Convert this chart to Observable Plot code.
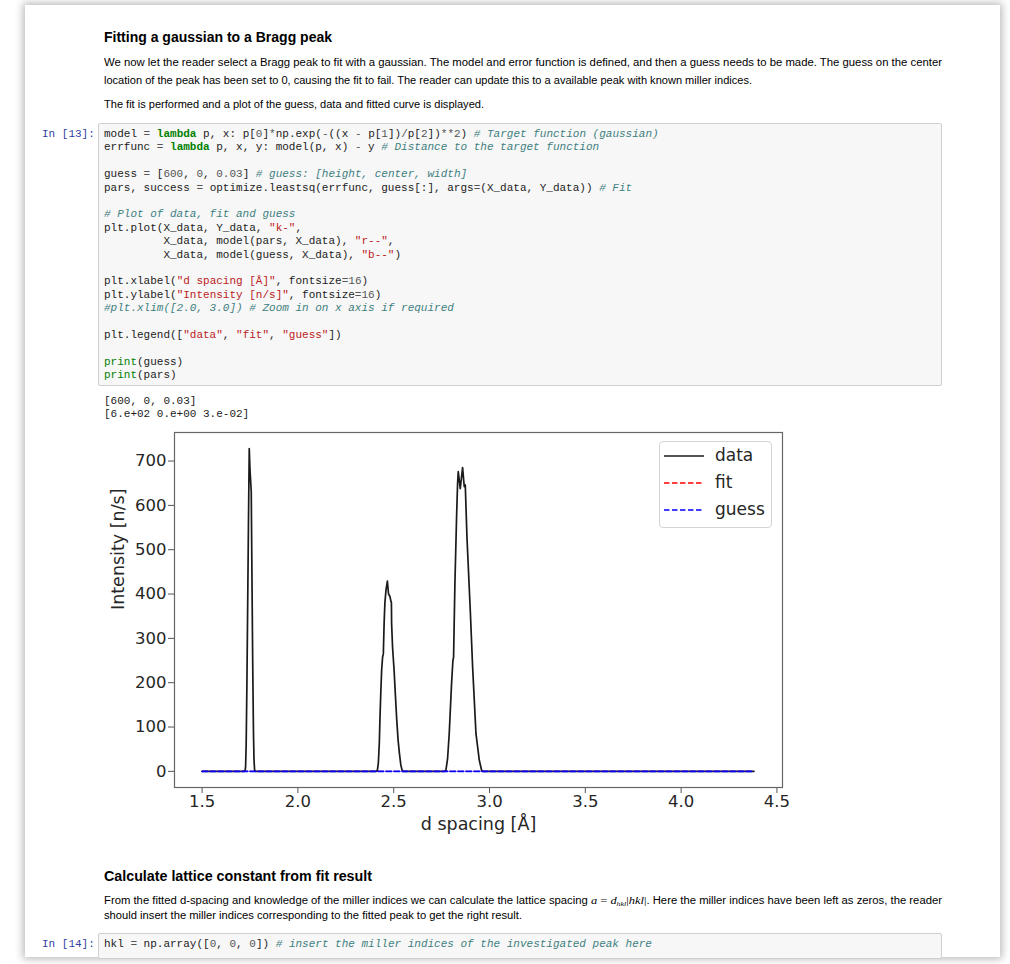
<!DOCTYPE html>
<html><head><meta charset="utf-8">
<script src="https://cdn.jsdelivr.net/npm/d3@7"></script>
<script src="https://cdn.jsdelivr.net/npm/@observablehq/plot@0.6"></script>
<style>
html,body{margin:0;padding:0;background:#fff;}
body{width:1010px;height:964px;position:relative;overflow:hidden;font-family:"Liberation Sans",Arial,sans-serif;}
#nb{position:absolute;left:25px;top:5px;width:975px;height:952px;background:#fff;box-shadow:0 0 8px 2px rgba(0,0,0,0.28);}
.t{position:absolute;white-space:pre;transform-origin:0 50%;color:#000;}
.h{font-weight:bold;font-size:14px;height:20px;line-height:20px;}
.p{font-size:10px;height:16px;line-height:16px;}
.m{font-family:"Liberation Serif","DejaVu Serif",serif;font-style:italic;font-size:11px;}
.mr{font-family:"Liberation Serif","DejaVu Serif",serif;font-size:11px;}
sub.m{font-size:7px;vertical-align:-2px;line-height:0;}
.code{position:absolute;background:#f7f7f7;border:1px solid #cfcfcf;border-radius:2px;box-sizing:border-box;}
.cl{position:absolute;white-space:pre;font-family:"Liberation Mono",monospace;font-size:11px;line-height:13px;height:13px;color:#1c1c1c;}
.prompt{position:absolute;white-space:pre;font-family:"Liberation Mono",monospace;font-size:11px;line-height:13px;height:13px;color:#303F9F;}
.kw{color:#008000;font-weight:bold;}
.bi{color:#008000;}
.cm{color:#408080;font-style:italic;}
.st{color:#BA2121;}
.nu{color:#555;}
.op{color:#555;}
#leg{position:absolute;left:659px;top:441px;width:113px;height:87px;border:1px solid #d4d4d4;border-radius:4px;background:rgba(255,255,255,0.85);box-sizing:border-box;}
.lt{position:absolute;font-family:"DejaVu Sans",sans-serif;font-size:17px;line-height:20px;height:20px;color:#262626;white-space:pre;}
</style>
</head><body>
<div id="nb"></div>
<script>
// ---------- chart data ----------
const dataX = [1.5, 1.72, 1.724, 1.727, 1.730, 1.734, 1.738, 1.742, 1.7461, 1.750, 1.7565, 1.760, 1.764, 1.768, 1.771, 1.774, 1.779,
  2.41, 2.415, 2.420, 2.425, 2.428, 2.432, 2.437, 2.442, 2.446, 2.447, 2.450, 2.454, 2.460, 2.467, 2.473, 2.480, 2.486, 2.488, 2.489, 2.494, 2.502, 2.509, 2.516, 2.523, 2.530, 2.537, 2.543, 2.548,
  2.765, 2.7723, 2.781, 2.7897, 2.8019, 2.8089, 2.8124, 2.8194, 2.8281, 2.8333, 2.8368, 2.8473, 2.8595, 2.8682, 2.8735, 2.8822, 2.8996, 2.9119, 2.9293, 2.9467, 2.9590, 2.965, 4.38];
const dataY = [0, 0, 1, 10, 60, 200, 380, 560, 728, 680, 632, 450, 250, 90, 25, 3, 0,
  0, 3, 20, 65, 115, 170, 228, 258, 265, 285, 335, 380, 410, 429, 400, 395, 383, 381, 334, 280, 228, 170, 115, 70, 40, 15, 4, 0,
  0, 2, 28, 85, 198, 250, 257, 424, 574, 649, 676, 638, 685, 642, 646, 529, 363, 235, 85, 25, 2, 0, 0];
const fitX = [1.5, 4.38];
const fitY = [0, 0];
const guessX = [1.5, 4.38];
const guessY = [0, 0];
const xTicks = [1.5, 2.0, 2.5, 3.0, 3.5, 4.0, 4.5];
const yTicks = [0, 100, 200, 300, 400, 500, 600, 700];
const xLabel = "d spacing [Å]";
const yLabel = "Intensity [n/s]";
const legendLabels = ["data", "fit", "guess"];
const legendColors = ["#1a1a1a", "#ff0000", "#0000ff"];

// ---------- notebook text ----------
const heading1 = "Fitting a gaussian to a Bragg peak";
const para1 = ["We now let the reader select a Bragg peak to fit with a gaussian. The model and error function is defined, and then a guess needs to be made. The guess on the center",
  "location of the peak has been set to 0, causing the fit to fail. The reader can update this to a available peak with known miller indices."];
const para2 = "The fit is performed and a plot of the guess, data and fitted curve is displayed.";
const code13 = [
  'model = lambda p, x: p[0]*np.exp(-((x - p[1])/p[2])**2) # Target function (gaussian)',
  'errfunc = lambda p, x, y: model(p, x) - y # Distance to the target function',
  '',
  'guess = [600, 0, 0.03] # guess: [height, center, width]',
  'pars, success = optimize.leastsq(errfunc, guess[:], args=(X_data, Y_data)) # Fit',
  '',
  '# Plot of data, fit and guess',
  'plt.plot(X_data, Y_data, "k-",',
  '         X_data, model(pars, X_data), "r--",',
  '         X_data, model(guess, X_data), "b--")',
  '',
  'plt.xlabel("d spacing [Å]", fontsize=16)',
  'plt.ylabel("Intensity [n/s]", fontsize=16)',
  '#plt.xlim([2.0, 3.0]) # Zoom in on x axis if required',
  '',
  'plt.legend(["data", "fit", "guess"])',
  '',
  'print(guess)',
  'print(pars)'];
const output13 = ["[600, 0, 0.03]", "[6.e+02 0.e+00 3.e-02]"];
const heading2 = "Calculate lattice constant from fit result";
const para3 = ['From the fitted d-spacing and knowledge of the miller indices we can calculate the lattice spacing <span class="m">a</span><span class="mr"> = </span><span class="m">d</span><sub class="m">hkl</sub><span class="mr">|</span><span class="m">hkl</span><span class="mr">|</span>. Here the miller indices have been left as zeros, the reader',
  'should insert the miller indices corresponding to the fitted peak to get the right result.'];
const code14 = ['hkl = np.array([0, 0, 0]) # insert the miller indices of the investigated peak here'];

const body = document.body;
function el(cls, html, x, y, w) {
  const d = document.createElement("div");
  d.className = cls; d.innerHTML = html;
  d.style.left = x + "px"; d.style.top = y + "px";
  if (w) d.dataset.w = w;
  body.appendChild(d); return d;
}
function hl(s) {
  const re = /(#.*$)|("[^"]*")|\b(lambda)\b|\b(print)\b|(\b\d+\.?\d*(?:e[+-]?\d+)?\b)|([=+\-*\/]+)/g;
  let out = "", last = 0, m;
  while ((m = re.exec(s))) {
    out += s.slice(last, m.index);
    const cls = m[1] ? "cm" : m[2] ? "st" : m[3] ? "kw" : m[4] ? "bi" : m[5] ? "nu" : "op";
    out += `<span class="${cls}">${m[0]}</span>`;
    last = m.index + m[0].length;
  }
  return out + s.slice(last);
}

el("t h", heading1, 104, 27, 228);
el("t p", para1[0], 104, 55, 838);
el("t p", para1[1], 104, 73, 648);
el("t p", para2, 104, 97, 380);

const cb = el("code", "", 98, 123); cb.style.width = "844px"; cb.style.height = "263px";
el("prompt", "In [13]:", 42, 128);
code13.forEach((s, i) => el("cl", hl(s), 104, 128 + i * 13.4));
output13.forEach((s, i) => el("cl", s, 104, 395 + i * 13.4));

el("t h", heading2, 104, 866, 268);
el("t p", para3[0], 104, 892, 838);
el("t p", para3[1], 104, 908, 418);
const cb2 = el("code", "", 98, 933); cb2.style.width = "844px"; cb2.style.height = "26px";
el("prompt", "In [14]:", 42, 938);
code14.forEach((s, i) => el("cl", hl(s), 104, 938 + i * 13.4));

document.querySelectorAll("[data-w]").forEach(d => {
  const w = d.getBoundingClientRect().width;
  d.style.transform = `scaleX(${(+d.dataset.w) / w})`;
});

// ---------- chart ----------
const data = dataX.map((x, i) => ({x, y: dataY[i]}));
const fit = fitX.map((x, i) => ({x, y: fitY[i]}));
const guess = guessX.map((x, i) => ({x, y: guessY[i]}));

const chart = Plot.plot({
  width: 700, height: 430,
  marginLeft: 74, marginRight: 18, marginTop: 7, marginBottom: 68,
  style: {fontFamily: "DejaVu Sans", fontSize: "16.5px", color: "#262626", background: "transparent"},
  x: {domain: [1.356, 4.529]},
  y: {domain: [-36.4, 764.4]},
  marks: [
    Plot.axisX({ticks: xTicks, tickFormat: d => d.toFixed(1), tickSize: 6, tickPadding: 2, label: null, fontSize: 16.5, stroke: "#555"}),
    Plot.axisY({ticks: yTicks, tickSize: 6, tickPadding: 2, label: null, fontSize: 16.5, stroke: "#555"}),
    Plot.line(data, {x: "x", y: "y", stroke: legendColors[0], strokeWidth: 1.7}),
    Plot.line(fit, {x: "x", y: "y", stroke: legendColors[1], strokeWidth: 1.3, strokeDasharray: "5.5,2.5"}),
    Plot.line(guess, {x: "x", y: "y", stroke: legendColors[2], strokeWidth: 1.9, strokeDasharray: "5.5,2.5"}),
    Plot.frame({stroke: "#666", strokeWidth: 1.2}),
    Plot.text([xLabel], {frameAnchor: "bottom", dy: 42, fontSize: 17.5, fill: "#262626"}),
    Plot.text([yLabel], {frameAnchor: "left", dx: -56, rotate: -90, fontSize: 17.5, fill: "#262626"})
  ]
});
chart.style.position = "absolute";
chart.style.left = "100px";
chart.style.top = "425px";
body.appendChild(chart);

// legend
const leg = document.createElement("div"); leg.id = "leg"; body.appendChild(leg);
legendLabels.forEach((lab, i) => {
  const cy = 456 + i * 27;
  const s = document.createElementNS("http://www.w3.org/2000/svg", "svg");
  s.setAttribute("width", 42); s.setAttribute("height", 6);
  s.style.position = "absolute"; s.style.left = "664px"; s.style.top = (cy - 3) + "px";
  const ln = document.createElementNS("http://www.w3.org/2000/svg", "line");
  ln.setAttribute("x1", 0); ln.setAttribute("x2", 40); ln.setAttribute("y1", 3); ln.setAttribute("y2", 3);
  ln.setAttribute("stroke", legendColors[i]); ln.setAttribute("stroke-width", 1.7);
  if (i > 0) ln.setAttribute("stroke-dasharray", "5.5,2.5");
  s.appendChild(ln); body.appendChild(s);
  el("lt", lab, 715, cy - 11);
});
</script>
</body></html>
